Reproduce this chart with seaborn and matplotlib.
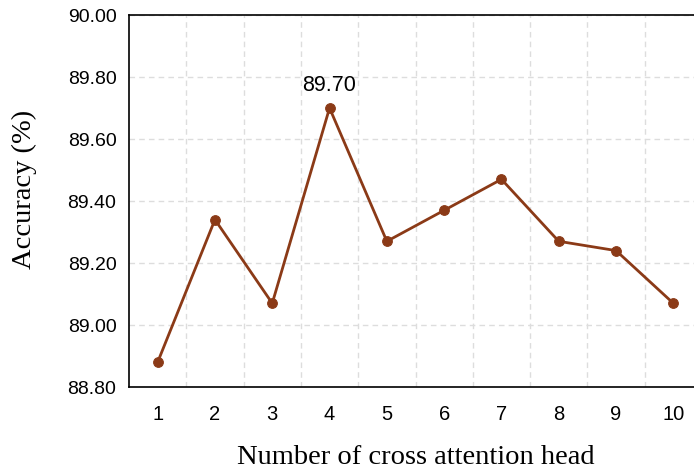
import matplotlib
matplotlib.use("Agg")
import matplotlib.pyplot as plt
import seaborn as sns
import pandas as pd
import numpy as np
from matplotlib.ticker import FixedLocator

heads = [1, 2, 3, 4, 5, 6, 7, 8, 9, 10]
accuracy = [88.88, 89.34, 89.07, 89.70, 89.27, 89.37, 89.47, 89.27, 89.24, 89.07]
yticks = [88.80, 89.00, 89.20, 89.40, 89.60, 89.80, 90.00]

df = pd.DataFrame({"heads": heads, "accuracy": accuracy})

sns.set_theme(style="white")
plt.rcParams["font.family"] = ["Liberation Sans", "DejaVu Sans"]

color = "#8B3A17"
fig = plt.figure(figsize=(6.94, 4.69), dpi=100)
ax = fig.add_axes([129/694, 1 - 387/469, (702-129)/694, (387-15)/469])

sns.lineplot(data=df, x="heads", y="accuracy", ax=ax, color=color, linewidth=2,
             marker="o", markersize=7, markeredgecolor=color, markerfacecolor=color)

ax.set_xlim(0.5, 10.5)
ax.set_ylim(88.80, 90.00)
ax.set_xticks(heads)
ax.set_xticklabels([str(h) for h in heads])
ax.xaxis.set_minor_locator(FixedLocator([h + 0.5 for h in heads[:-1]]))
ax.set_yticks(yticks)
ax.set_yticklabels([f"{v:.2f}" for v in yticks])
ax.tick_params(axis="both", which="both", length=0, colors="black")
ax.tick_params(axis="x", labelsize=14.5, pad=13)
ax.tick_params(axis="y", labelsize=14, pad=9)

ax.grid(False)
ax.grid(True, axis="x", which="minor", linestyle=(0, (4, 3)), color="#dddddd", linewidth=1)
ax.grid(True, axis="y", which="major", linestyle=(0, (4, 3)), color="#dddddd", linewidth=1)

for s in ax.spines.values():
    s.set_color("black")
    s.set_linewidth(1.2)
    s.set_visible(True)

serif = ["Liberation Serif", "DejaVu Serif"]
ax.set_xlabel("Number of cross attention head", family=serif, fontsize=20.5, color="black")
ax.set_ylabel("Accuracy (%)", family=serif, fontsize=20.5, color="black")
ax.xaxis.set_label_coords(0.5, -(457 - 387) / 372, transform=ax.transAxes)
ax.yaxis.set_label_coords(-(129 - 24) / 573, (387 - 189) / 372, transform=ax.transAxes)
ax.xaxis.label.set_va("center")
ax.yaxis.label.set_va("center")

imax = int(np.argmax(accuracy))
ax.annotate(f"{accuracy[imax]:.2f}", xy=(heads[imax], accuracy[imax]), xytext=(0, 9),
            textcoords="offset points", ha="center", va="bottom", fontsize=15.5, color="black")

fig.savefig("out.png", dpi=100)
